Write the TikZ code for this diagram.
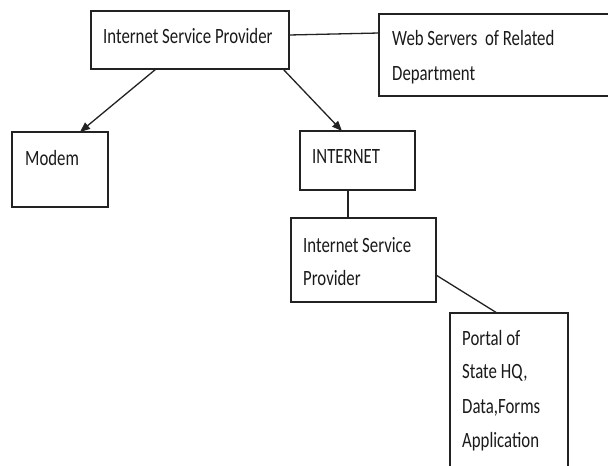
\documentclass[tikz,border=0pt]{standalone}
\usepackage{fontspec}
\newfontfamily\boxfont[FakeStretch=0.77]{Carlito}
\usetikzlibrary{arrows.meta}
\definecolor{linecol}{HTML}{222222}
\definecolor{txtcol}{HTML}{1A1A1A}
\begin{document}
\begin{tikzpicture}[x=1pt,y=-1pt,
  box/.style={draw=linecol,line width=1.6pt,inner sep=0pt,outer sep=0pt,anchor=north west,fill=none},
  lbl/.style={anchor=base west,inner sep=0pt,text=txtcol,font=\boxfont\fontsize{21.8}{25}\selectfont},
  conn/.style={draw=linecol,line width=1.3pt},
  arr/.style={conn,-{Triangle[length=10pt,width=8pt]}}]
\useasboundingbox (0,0) rectangle (608,466);
\clip (0,0) rectangle (608,466);
\fill[white] (0,0) rectangle (608,466);
% boxes
\node[box,minimum width=198pt,minimum height=58pt] (isp) at (91,11) {};
\node[box,minimum width=240pt,minimum height=82pt] (web) at (379,14) {};
\node[box,minimum width=96pt,minimum height=75pt] (modem) at (12,132) {};
\node[box,minimum width=115pt,minimum height=59pt] (inet) at (300,131) {};
\node[box,minimum width=145pt,minimum height=84pt] (isp2) at (291,218) {};
\node[box,minimum width=118pt,minimum height=180pt] (portal) at (450,313) {};
% texts
\node[lbl] (t1) at (103,43) {Internet Service Provider};
\node[lbl] (t2) at (392,45) {Web Servers\ \ of Related};
\node[lbl] (t3) at (392,80) {Department};
\node[lbl] (t4) at (25,165) {Modem};
\node[lbl] (t5) at (312,163) {INTERNET};
\node[lbl] (t6) at (303,252) {Internet Service};
\node[lbl] (t7) at (303,285) {Provider};
\node[lbl] (t8) at (462,345) {Portal of};
\node[lbl] (t9) at (462,378) {State HQ,};
\node[lbl] (t10) at (462,413) {Data,Forms};
\node[lbl] (t11) at (462,447) {Application};
% connectors
\draw[conn] ([yshift=-24pt]isp.north east) -- ([yshift=-19pt]web.north west);
\draw[arr] ([xshift=65pt]isp.south west) -- ([xshift=68pt]modem.north west);
\draw[arr] ([xshift=-6pt]isp.south east) -- ([xshift=42pt]inet.north west);
\draw[conn] ([xshift=48pt]inet.south west) coordinate (c1) -- (c1 |- isp2.north);
\draw[conn] ([yshift=27pt]isp2.south east) -- ([xshift=47pt]portal.north west);
\end{tikzpicture}
\end{document}
